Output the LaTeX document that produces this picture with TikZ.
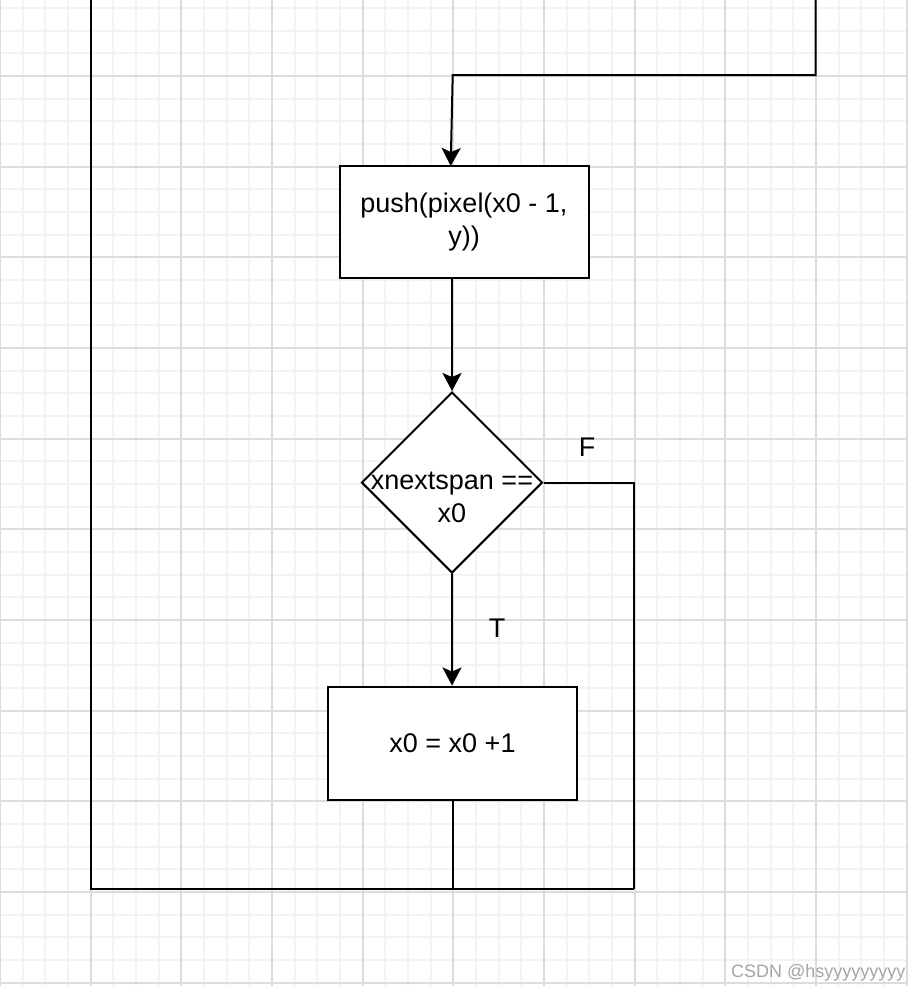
\documentclass[tikz,border=0pt]{standalone}
\usepackage{fontspec}
\setmainfont{Liberation Sans}
\usetikzlibrary{shapes.geometric,arrows.meta}
\definecolor{gridmajor}{RGB}{220,220,220}
\definecolor{gridminor}{RGB}{243,243,243}
\definecolor{watermark}{RGB}{165,165,165}
\begin{document}
\begin{tikzpicture}[x=0.5pt,y=-0.5pt,
		minor/.style={gridminor,line width=1pt},
		major/.style={gridmajor,line width=1pt},
		flow/.style={black,line width=1pt},
		arrow/.style={flow,-{Stealth[length=9pt,width=9.5pt,inset=2pt]}},
		box/.style={draw,line width=1pt,fill=white,rectangle,inner sep=0pt,align=center,font=\fontsize{13.5}{16.5}\selectfont},
		decision/.style={draw,line width=1pt,fill=white,diamond,inner sep=0pt,minimum width=90.5pt,minimum height=90.5pt},
		txt/.style={align=center,font=\fontsize{13.5}{16.5}\selectfont}]
	\useasboundingbox (0,0) rectangle (907,986);
	\fill [white] (0,0) rectangle (907,986);
	% grid
	\foreach \i in {0,...,40} \draw [minor] (\i*22.667,0) -- (\i*22.667,986);
	\foreach \j in {0,...,44} \draw [minor] (0,\j*22.667-14.667) -- (907,\j*22.667-14.667);
	\foreach \i in {0,...,10} \draw [major] (\i*90.667,0) -- (\i*90.667,986);
	\foreach \j in {0,...,11} \draw [major] (0,\j*90.667-14.667) -- (907,\j*90.667-14.667);
	% steps
	\node [box,minimum width=124.5pt,minimum height=56.25pt] (push) at (464,222) {push(pixel(x0 - 1,\\y))};
	\node [decision] (cond) at (452,482.5) {};
	\node [txt] (condtext) at (452,497) {xnextspan ==\\x0};
	\node [box,minimum width=124.5pt,minimum height=56.5pt] (inc) at (452.5,743) {x0 = x0 +1};
	\node [txt] (F) at (587,447) {F};
	\node [txt] (T) at (497,628) {T};
	\node [anchor=base west,watermark,font=\fontsize{9}{9}\selectfont] (mark) at (724,977) {CSDN @hsyyyyyyyyy};
	% loop corners
	\coordinate (topR) at (815.5,0);
	\coordinate (bendR) at (815.5,75);
	\coordinate (bendL) at (452.7,75);
	\coordinate (pushin) at (450.7,166);
	\coordinate (leftT) at (90.5,0);
	\coordinate (leftB) at (90.5,889);
	\coordinate (rightB) at (634,889);
	\coordinate (join) at (452.7,889);
	% connectors
	\draw [arrow] (topR) -- (bendR) -- (bendL) -- (pushin);
	\draw [arrow] (push.south -| cond.north) -- (cond.north);
	\draw [arrow] (cond.south) -- (cond.south |- inc.north);
	\draw [flow] (cond.east) -- (cond.east -| rightB) -- (rightB);
	\draw [flow] (leftT) -- (leftB) -- (rightB);
	\draw [flow] (inc.south -| join) -- (join);
\end{tikzpicture}
\end{document}
